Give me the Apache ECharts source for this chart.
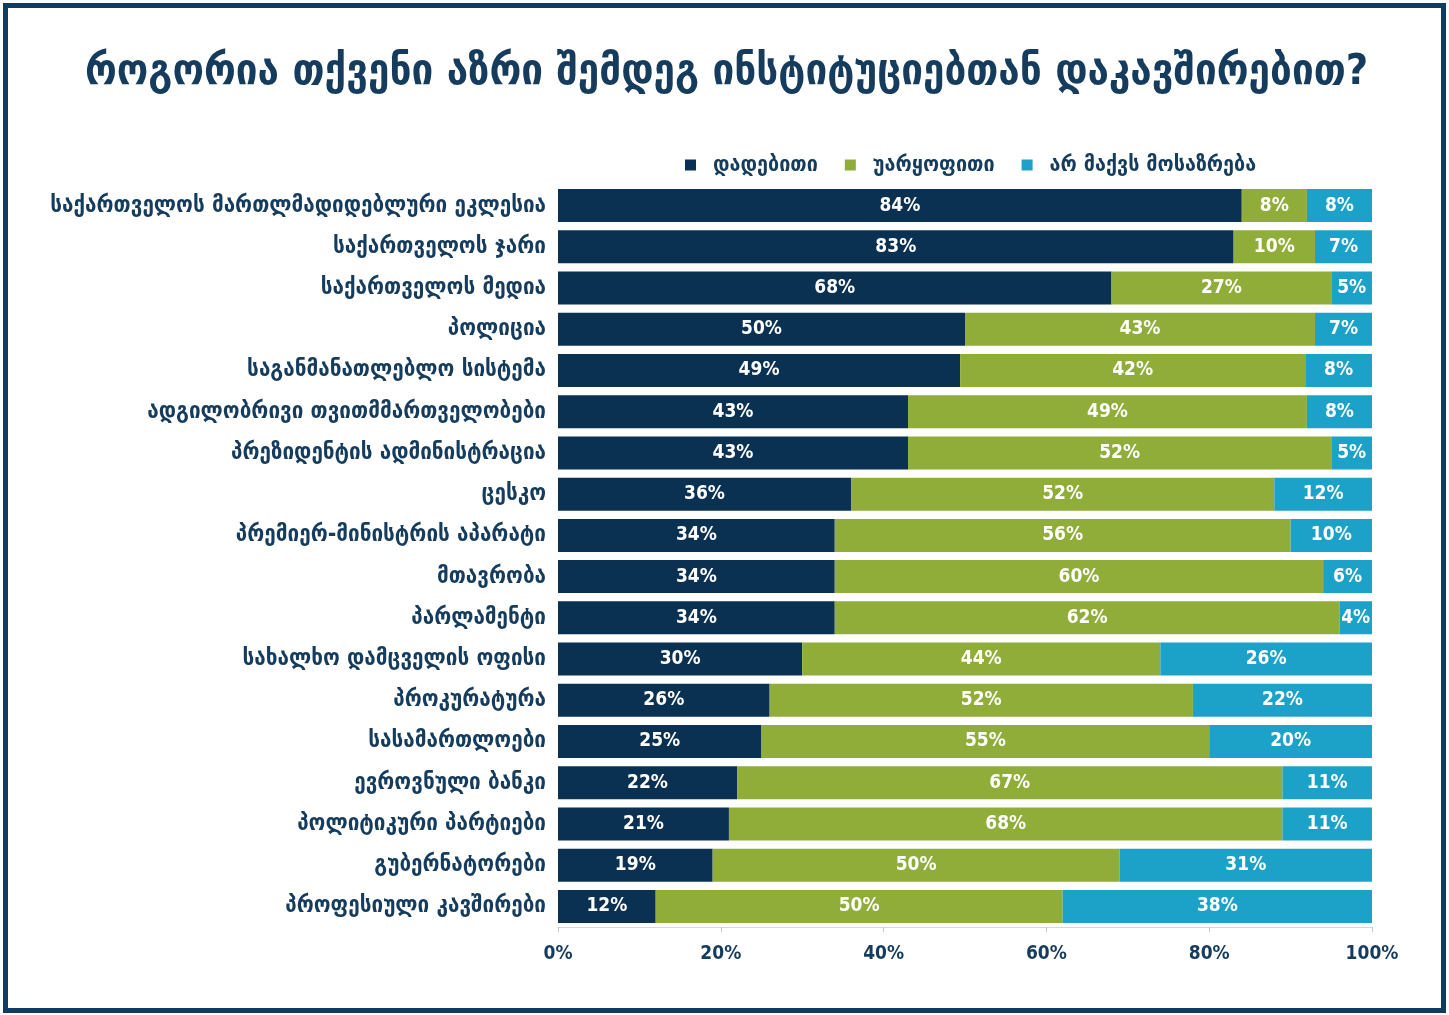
<!DOCTYPE html>
<html>
<head>
<meta charset="utf-8">
<script src="https://cdn.jsdelivr.net/npm/echarts@6/dist/echarts.min.js"></script>
<style>
  html, body { margin: 0; padding: 0; background: #fff; }
  #frame {
    position: absolute; left: 3px; top: 3px;
    width: 1433px; height: 1000px;
    border: 5px solid #0f3d62;
  }
  #chart { position: absolute; left: 0; top: 0; width: 1449px; height: 1015px; }
</style>
</head>
<body>
<div id="frame"></div>
<div id="chart"></div>
<script>
// ინსტიტუციები, ზემოდან ქვემოთ
const categories = [
    'საქართველოს მართლმადიდებლური ეკლესია',
    'საქართველოს ჯარი',
    'საქართველოს მედია',
    'პოლიცია',
    'საგანმანათლებლო სისტემა',
    'ადგილობრივი თვითმმართველობები',
    'პრეზიდენტის ადმინისტრაცია',
    'ცესკო',
    'პრემიერ-მინისტრის აპარატი',
    'მთავრობა',
    'პარლამენტი',
    'სახალხო დამცველის ოფისი',
    'პროკურატურა',
    'სასამართლოები',
    'ევროვნული ბანკი',
    'პოლიტიკური პარტიები',
    'გუბერნატორები',
    'პროფესიული კავშირები'
];

const seriesNames = ['დადებითი', 'უარყოფითი', 'არ მაქვს მოსაზრება'];

// ბარის სიგრძე სურათიდან, წარწერა დამრგვალებულია
const positive = [84, 83, 68, 50, 49.4, 43, 43, 36, 34, 34, 34, 30, 26, 25, 22, 21, 19, 12];
const negative = [8, 10, 27, 43, 42.4, 49, 52, 52, 56, 60, 62, 44, 52, 55, 67, 68, 50, 50];
const noOpinion = [8, 7, 5, 7, 8.2, 8, 5, 12, 10, 6, 4, 26, 22, 20, 11, 11, 31, 38];

const xTicks = [0, 20, 40, 60, 80, 100];

const colors = ['#0b3152', '#90ad3a', '#1ca1c8'];
const textColor = '#153b5d';
const font = '"DejaVu Sans Condensed", "DejaVu Sans", sans-serif';

const chart = echarts.init(document.getElementById('chart'));

function barSeries(name, data, color) {
    return {
        name: name,
        type: 'bar',
        stack: 'total',
        data: data,
        barWidth: '80%',
        itemStyle: { color: color },
        label: {
            show: true,
            position: 'inside',
            formatter: (p) => Math.round(p.value) + '%',
            color: '#fff',
            fontFamily: font,
            fontWeight: 'bold',
            fontSize: 19
        }
    };
}

chart.setOption({
    animation: false,
    color: colors,
    title: {
        text: 'როგორია თქვენი აზრი შემდეგ ინსტიტუციებთან დაკავშირებით?',
        left: 80,
        top: 46,
        textStyle: {
            color: textColor,
            fontFamily: font,
            fontWeight: 'bold',
            fontSize: 43
        }
    },
    legend: {
        left: 680,
        top: 149,
        icon: 'rect',
        itemWidth: 11,
        itemHeight: 11,
        itemGap: 27,
        textStyle: {
            color: textColor, fontFamily: font, fontWeight: 'bold', fontSize: 22,
            padding: [0, 0, 0, 12]
        },
        data: seriesNames
    },
    grid: { left: 558, right: 77, top: 185, bottom: 88, containLabel: false },
    xAxis: {
        type: 'value',
        min: xTicks[0],
        max: xTicks[xTicks.length - 1],
        interval: 20,
        splitLine: { show: false },
        axisLine: { show: true, lineStyle: { color: '#d4d8dc' } },
        axisTick: { show: true, length: 5, lineStyle: { color: '#c4c8cc' } },
        axisLabel: {
            formatter: '{value}%',
            color: textColor,
            fontFamily: font,
            fontWeight: 'bold',
            fontSize: 19,
            margin: 18
        }
    },
    yAxis: {
        type: 'category',
        inverse: true,
        data: categories,
        axisLine: { show: false },
        axisTick: { show: false },
        axisLabel: {
            color: textColor,
            fontFamily: font,
            fontWeight: 'bold',
            fontSize: 23,
            margin: 12
        }
    },
    series: [
        barSeries(seriesNames[0], positive, colors[0]),
        barSeries(seriesNames[1], negative, colors[1]),
        barSeries(seriesNames[2], noOpinion, colors[2])
    ]
});
</script>
</body>
</html>
